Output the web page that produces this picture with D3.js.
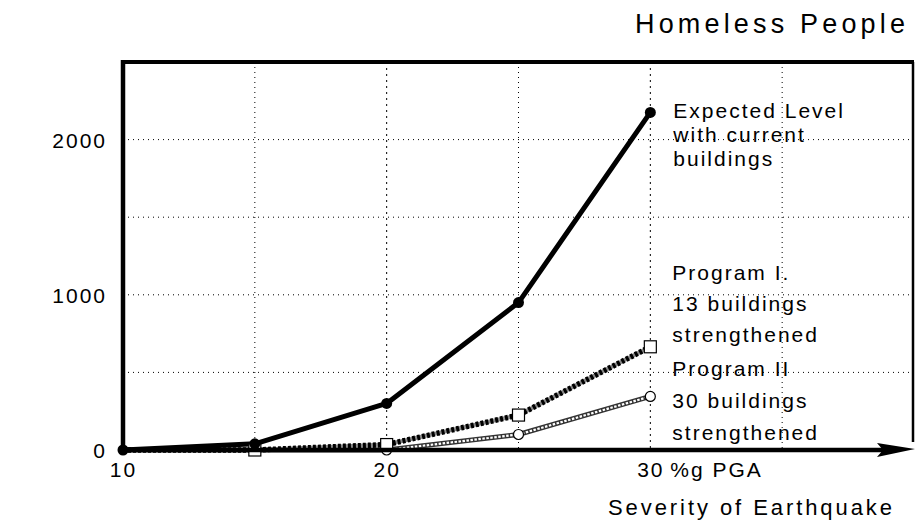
<!DOCTYPE html>
<html lang="en">
<head>
	<meta charset="utf-8">
	<title>Homeless People</title>
	<script src="https://cdn.jsdelivr.net/npm/d3@7"></script>
	<style>
		body {
			margin: 0;
			padding: 0;
			background: #fff;
		}

		svg text {
			font-family: "Liberation Sans", Arial, Helvetica, sans-serif;
			fill: #000;
		}

		.tick-label {
			font-size: 21px;
			letter-spacing: 2px;
		}

		.note {
			font-size: 21px;
			letter-spacing: 2px;
		}

		.grid line {
			stroke: #000;
			stroke-width: 1;
			stroke-dasharray: 1, 4;
		}
	</style>
</head>

<body>
	<div id="chart"></div>
	<script>

		// Data
		var severity = [10, 15, 20, 25, 30];
		var expectedLevel = [0, 40, 300, 950, 2175];
		var programOne = [0, 0, 35, 225, 665];
		var programTwo = [0, 0, 0, 100, 345];

		var yTicks = [0, 1000, 2000];
		var xTicks = [10, 20, 30];
		var yGrid = [500, 1000, 1500, 2000];
		var xGrid = [15, 20, 25, 30, 35];

		var notesExpected = ["Expected Level", "with current", "buildings"];
		var notesProgramOne = ["Program I.", "13 buildings", "strengthened"];
		var notesProgramTwo = ["Program II", "30 buildings", "strengthened"];

		// Size
		var width = 917,
			height = 525;
		var margin = { top: 62, right: 3, bottom: 75, left: 123 };

		var svg = d3.select("#chart")
			.append("svg")
			.attr("width", width)
			.attr("height", height);

		var x = d3.scaleLinear()
			.domain([10, 40])
			.range([margin.left, width - margin.right]);

		var y = d3.scaleLinear()
			.domain([0, 2500])
			.range([height - margin.bottom, margin.top]);

		// Gridlines
		var grid = svg.append("g").attr("class", "grid");

		grid.selectAll("line.h")
			.data(yGrid)
			.enter().append("line")
			.attr("class", "h")
			.attr("x1", x(10)).attr("x2", x(40) - 2)
			.attr("y1", function (d) { return y(d); })
			.attr("y2", function (d) { return y(d); });

		grid.selectAll("line.v")
			.data(xGrid)
			.enter().append("line")
			.attr("class", "v")
			.attr("x1", function (d) { return x(d); })
			.attr("x2", function (d) { return x(d); })
			.attr("y1", y(2500))
			.attr("y2", y(0))
			.style("stroke-dasharray", function (d) { return d % 10 == 0 ? "2,4" : "1,4"; });

		// Y axis labels
		var yAxis = d3.axisLeft(y)
			.tickValues(yTicks)
			.tickSize(0)
			.tickPadding(16)
			.tickFormat(d3.format("d"));

		var gy = svg.append("g")
			.attr("transform", "translate(" + margin.left + ",0)")
			.call(yAxis);
		gy.select(".domain").remove();
		gy.selectAll("text")
			.attr("class", "tick-label")
			.attr("dy", "0.36em");

		// X axis labels
		var xAxis = d3.axisBottom(x)
			.tickValues(xTicks)
			.tickSize(0)
			.tickPadding(12)
			.tickFormat(d3.format("d"));

		var gx = svg.append("g")
			.attr("transform", "translate(0," + y(0) + ")")
			.call(xAxis);
		gx.select(".domain").remove();
		gx.selectAll("text")
			.attr("class", "tick-label")
			.attr("dy", "0.71em");

		svg.append("text")
			.attr("class", "tick-label")
			.attr("x", x(30) + 20)
			.attr("y", y(0) + 27)
			.text("%g PGA");

		// Lines
		var line = d3.line()
			.x(function (d) { return x(d[0]); })
			.y(function (d) { return y(d[1]); });

		var ptsOne = d3.zip(severity, programOne);
		var ptsTwo = d3.zip(severity, programTwo);
		var ptsExp = d3.zip(severity, expectedLevel);

		// Program II - hollow chain look
		svg.append("path")
			.datum(ptsTwo)
			.attr("d", line)
			.attr("fill", "none")
			.attr("stroke", "#333")
			.attr("stroke-width", 5);
		svg.append("path")
			.datum(ptsTwo)
			.attr("d", line)
			.attr("fill", "none")
			.attr("stroke", "#fff")
			.attr("stroke-width", 2.2)
			.attr("stroke-dasharray", "2.5,1.5");

		// Program I - dark hatched
		svg.append("path")
			.datum(ptsOne)
			.attr("d", line)
			.attr("fill", "none")
			.attr("stroke", "#888")
			.attr("stroke-width", 4);
		svg.append("path")
			.datum(ptsOne)
			.attr("d", line)
			.attr("fill", "none")
			.attr("stroke", "#000")
			.attr("stroke-width", 5.5)
			.attr("stroke-dasharray", "3,2");

		// Expected level - solid
		svg.append("path")
			.datum(ptsExp)
			.attr("d", line)
			.attr("fill", "none")
			.attr("stroke", "#000")
			.attr("stroke-width", 5)
			.attr("stroke-linejoin", "round");

		// Markers
		svg.selectAll("circle.two")
			.data(ptsTwo.filter(function (d) { return d[0] > 10; }))
			.enter().append("circle")
			.attr("class", "two")
			.attr("cx", function (d) { return x(d[0]); })
			.attr("cy", function (d) { return y(d[1]); })
			.attr("r", 5)
			.attr("fill", "#fff")
			.attr("stroke", "#000")
			.attr("stroke-width", 1.2);

		svg.selectAll("rect.one")
			.data(ptsOne.filter(function (d) { return d[0] > 10; }))
			.enter().append("rect")
			.attr("class", "one")
			.attr("x", function (d) { return x(d[0]) - 6; })
			.attr("y", function (d) { return y(d[1]) - 6; })
			.attr("width", 12)
			.attr("height", 12)
			.attr("fill", "#fff")
			.attr("stroke", "#000")
			.attr("stroke-width", 1.2);

		svg.selectAll("circle.exp")
			.data(ptsExp)
			.enter().append("circle")
			.attr("class", "exp")
			.attr("cx", function (d) { return x(d[0]); })
			.attr("cy", function (d) { return y(d[1]); })
			.attr("r", 5.5)
			.attr("fill", "#000");

		// Frame and x arrow
		var x0 = x(10), x1 = x(40) - 1, yTop = y(2500), yBase = y(0);

		svg.append("line")
			.attr("x1", x0).attr("x2", x0)
			.attr("y1", yTop - 2).attr("y2", yBase + 2)
			.attr("stroke", "#000").attr("stroke-width", 4.5);
		svg.append("line")
			.attr("x1", x0 - 2).attr("x2", x1 + 1)
			.attr("y1", yTop).attr("y2", yTop)
			.attr("stroke", "#000").attr("stroke-width", 4);
		svg.append("line")
			.attr("x1", x1).attr("x2", x1)
			.attr("y1", yTop).attr("y2", yBase - 8)
			.attr("stroke", "#000").attr("stroke-width", 2.5);
		svg.append("line")
			.attr("x1", x0).attr("x2", x1 - 30)
			.attr("y1", yBase).attr("y2", yBase)
			.attr("stroke", "#000").attr("stroke-width", 4.5);
		svg.append("path")
			.attr("d", "M" + (x1 - 36) + "," + (yBase - 7) + " L" + (x1 + 2) + "," + (yBase - 1) +
				" L" + (x1 - 36) + "," + (yBase + 7) + " L" + (x1 - 30) + "," + yBase + " Z")
			.attr("fill", "#000");

		// Annotations
		function addNote(lines, px, py, step) {
			svg.append("text")
				.attr("class", "note")
				.selectAll("tspan")
				.data(lines)
				.enter().append("tspan")
				.attr("x", px)
				.attr("y", function (d, i) { return py + i * step; })
				.text(function (d) { return d; });
		}

		addNote(notesExpected, x(30) + 23, 118, 24);
		addNote(notesProgramOne, x(30) + 22, 280, 31);
		addNote(notesProgramTwo, x(30) + 22, 376, 32);

		// Titles
		svg.append("text")
			.attr("x", 635)
			.attr("y", 33)
			.attr("textLength", 270)
			.attr("lengthAdjust", "spacing")
			.style("font-size", "27px")
			.text("Homeless People");

		svg.append("text")
			.attr("x", 608)
			.attr("y", 515)
			.attr("textLength", 284)
			.attr("lengthAdjust", "spacing")
			.style("font-size", "22px")
			.text("Severity of Earthquake");

	</script>
</body>
</html>
